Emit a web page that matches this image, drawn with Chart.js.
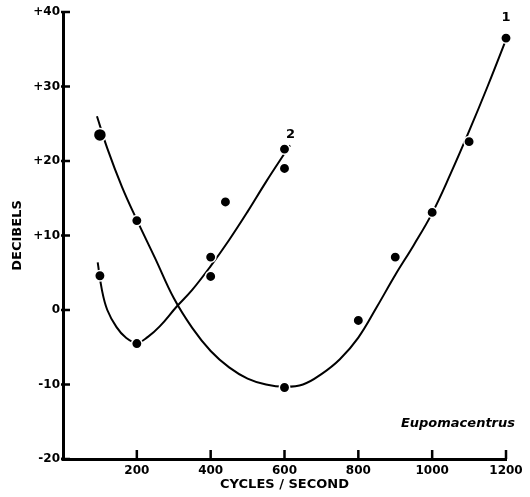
<!DOCTYPE html>
<html>
<head>
<meta charset="utf-8">
<title>Eupomacentrus</title>
<script src="https://cdn.jsdelivr.net/npm/chart.js@4"></script>
<style>
  html, body { margin: 0; padding: 0; background: #fff; }
  #wrap { width: 530px; height: 497px; }
</style>
</head>
<body>
<div id="wrap"><canvas id="chart" width="530" height="497"></canvas></div>
<script>
// measured points, curve 1
const dots1X = [100, 200, 600, 800, 900, 1000, 1100, 1200]
const dots1Y = [23.5, 12.0, -10.4, -1.4, 7.1, 13.1, 22.6, 36.5]

// measured points, curve 2
const dots2X = [100, 200, 400, 400, 440, 600, 600]
const dots2Y = [4.6, -4.5, 4.5, 7.1, 14.5, 19.0, 21.6]

// hand-drawn fitted curves, traced
const curve1X = [92, 120, 160, 200, 250, 300, 350, 400, 450, 500, 550, 600, 650, 700, 750, 800, 850, 900, 950, 1000, 1050, 1100, 1150, 1200, 1215]
const curve1Y = [26.0, 21.7, 16.5, 12.1, 6.9, 1.6, -2.4, -5.5, -7.7, -9.2, -10.0, -10.3, -10.0, -8.6, -6.6, -3.7, 0.4, 4.7, 8.7, 13.0, 18.3, 24.0, 30.0, 36.3, 38.3]
const curve2X = [94, 105, 120, 145, 170, 200, 230, 262, 307, 350, 400, 450, 500, 550, 600, 615]
const curve2Y = [6.4, 2.8, 0.0, -2.3, -3.7, -4.4, -3.6, -2.2, 0.4, 2.7, 5.9, 9.4, 13.2, 17.2, 21.0, 22.1]

const xTicks = [200, 400, 600, 800, 1000, 1200]
const yTicks = [-20, -10, 0, 10, 20, 30, 40]
const curveNames = ['1', '2']
const curveNameAt = [[1200, 39.3], [616, 23.5]]
const species = 'Eupomacentrus'

const FONT = 'DejaVu Sans'
const toXY = (xs, ys) => xs.map((x, i) => ({ x: x, y: ys[i] }))

// inward tick marks plus the curve numbers and species name
const annotate = {
  id: 'annotate',
  afterDraw(chart) {
    const ctx = chart.ctx
    const xs = chart.scales.x
    const ys = chart.scales.y
    const area = chart.chartArea
    ctx.save()
    ctx.strokeStyle = '#000'
    ctx.lineWidth = 2.5
    ctx.beginPath()
    yTicks.forEach(v => {
      const py = ys.getPixelForValue(v)
      ctx.moveTo(area.left - 2, py)
      ctx.lineTo(area.left + 7, py)
    })
    xTicks.forEach(v => {
      const px = xs.getPixelForValue(v)
      ctx.moveTo(px, area.bottom)
      ctx.lineTo(px, area.bottom - 9)
    })
    ctx.stroke()
    // close the corner where the two axis lines meet
    ctx.fillStyle = '#000'
    ctx.fillRect(area.left - 1.5, area.bottom - 1.5, 3, 3)

    ctx.font = 'bold 13px "' + FONT + '"'
    ctx.textAlign = 'center'
    ctx.textBaseline = 'middle'
    curveNames.forEach((name, i) => {
      const [vx, vy] = curveNameAt[i]
      ctx.fillText(name, xs.getPixelForValue(vx), ys.getPixelForValue(vy))
    })
    ctx.font = 'italic bold 13px "' + FONT + '"'
    ctx.textAlign = 'right'
    ctx.fillText(species, area.right + 9, ys.getPixelForValue(-15.3))
    ctx.restore()
  }
}

const lineStyle = {
  showLine: true,
  borderColor: '#000',
  borderWidth: 2,
  pointRadius: 0,
  tension: 0.4,
  clip: false,
  order: 2
}
const dotStyle = {
  showLine: false,
  backgroundColor: '#000',
  pointBorderColor: '#fff',
  pointBorderWidth: 1.5,
  clip: false,
  order: 1
}

new Chart(document.getElementById('chart'), {
  type: 'scatter',
  data: {
    datasets: [
      Object.assign({ label: 'curve 1', data: toXY(curve1X, curve1Y) }, lineStyle),
      Object.assign({ label: 'curve 2', data: toXY(curve2X, curve2Y) }, lineStyle),
      Object.assign({
        label: 'points 1',
        data: toXY(dots1X, dots1Y),
        pointRadius: ctx => (ctx.dataIndex === 0 ? 6.5 : 5.2)
      }, dotStyle),
      Object.assign({ label: 'points 2', data: toXY(dots2X, dots2Y), pointRadius: 5.2 }, dotStyle)
    ]
  },
  options: {
    responsive: false,
    animation: false,
    devicePixelRatio: 1,
    layout: { padding: { top: 12, right: 24, left: 0, bottom: 0 } },
    plugins: { legend: { display: false }, tooltip: { enabled: false } },
    scales: {
      x: {
        type: 'linear',
        min: 0,
        max: 1200,
        afterFit: s => { s.height = 38 },
        afterBuildTicks: s => { s.ticks = xTicks.map(v => ({ value: v })) },
        grid: { display: false, drawTicks: false },
        border: { display: true, color: '#000', width: 3 },
        ticks: {
          color: '#000',
          padding: 5,
          maxRotation: 0,
          font: { family: FONT, size: 12, weight: 'bold' },
          callback: v => String(v)
        },
        title: {
          display: true,
          text: 'CYCLES / SECOND',
          color: '#000',
          font: { family: FONT, size: 13, weight: 'bold' },
          padding: { top: 0, bottom: 5 }
        }
      },
      y: {
        type: 'linear',
        min: -20,
        max: 40,
        afterFit: s => { s.width = 63 },
        afterBuildTicks: s => { s.ticks = yTicks.map(v => ({ value: v })) },
        grid: { display: false, drawTicks: false },
        border: { display: true, color: '#000', width: 3 },
        ticks: {
          color: '#000',
          padding: 3,
          font: { family: FONT, size: 12, weight: 'bold' },
          callback: v => (v > 0 ? '+' + v : String(v))
        },
        title: {
          display: true,
          text: 'DECIBELS',
          color: '#000',
          font: { family: FONT, size: 13, weight: 'bold' },
          padding: { top: 10, bottom: 0 }
        }
      }
    }
  },
  plugins: [annotate]
})
</script>
</body>
</html>
